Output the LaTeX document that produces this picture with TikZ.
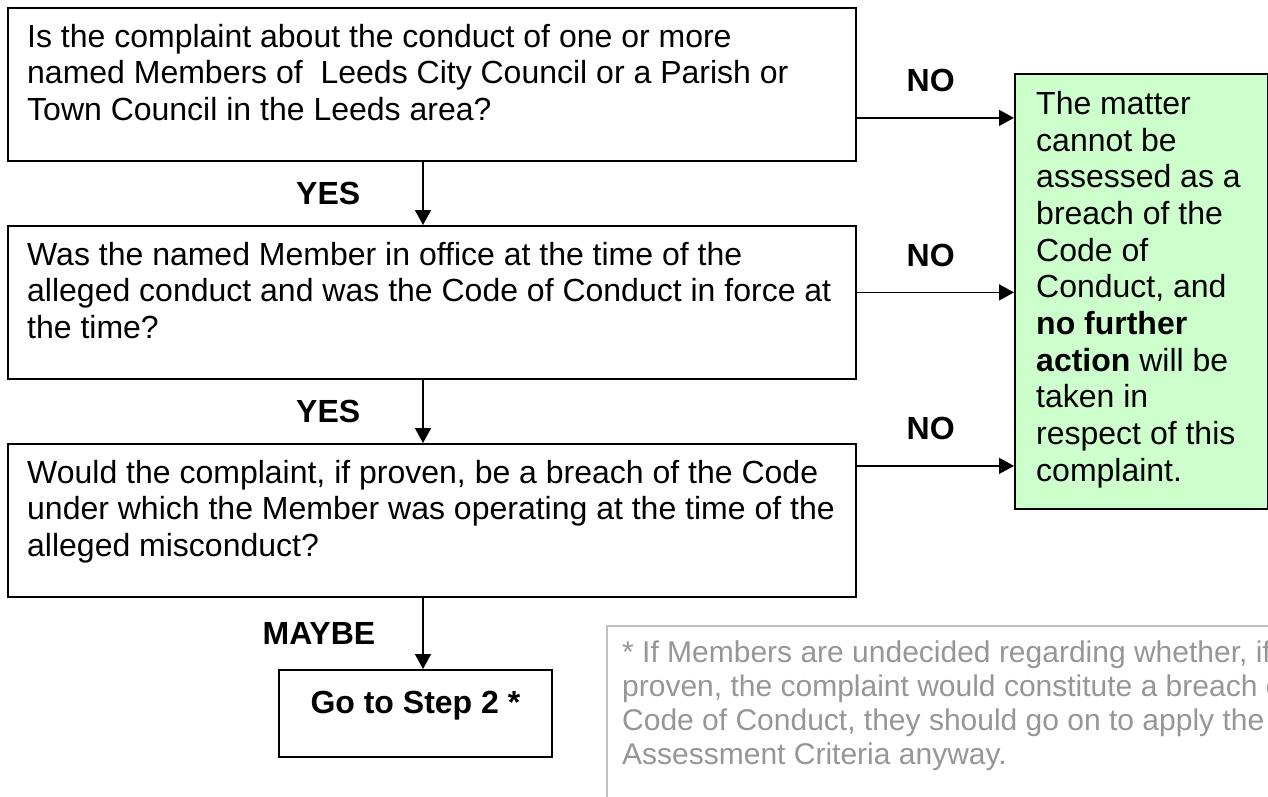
\documentclass[tikz,border=0pt]{standalone}
\usepackage{fontspec}
\setmainfont{Liberation Sans}
\usetikzlibrary{positioning,arrows.meta}
\definecolor{donegreen}{HTML}{CCFFCC}
\definecolor{notegray}{HTML}{969696}
\definecolor{noteline}{HTML}{C0C0C0}

\begin{document}
\begin{tikzpicture}[x=1pt,y=-1pt,
    qbox/.style={draw,line width=1.8pt,anchor=north west,inner sep=0pt,minimum width=848pt,minimum height=153pt},
    qtext/.style={anchor=north west,inner sep=0pt,align=left,font=\fontsize{32}{36.5}\selectfont},
    answer/.style={inner sep=0pt,font=\fontsize{32}{36}\selectfont\bfseries},
    arr/.style={line width=1.5pt,-{Triangle[width=16pt,length=15pt]}}]
  \useasboundingbox (0,0) rectangle (1268,796);
  % the three questions
  \node[qbox] (q1) at (7,7) {};
  \node[qbox] (q2) at (7,225) {};
  \node[qbox] (q3) at (7,443) {};
  \node[qtext,below right=17pt and 20pt of q1.north west] (q1t)
    {Is the complaint about the conduct of one or more\\
     named Members of\ \ Leeds City Council or a Parish or\\
     Town Council in the Leeds area?};
  \node[qtext,below right=17pt and 20pt of q2.north west] (q2t)
    {Was the named Member in office at the time of the\\
     alleged conduct and was the Code of Conduct in force at\\
     the time?};
  \node[qtext,below right=17pt and 20pt of q3.north west] (q3t)
    {Would the complaint, if proven, be a breach of the Code\\
     under which the Member was operating at the time of the\\
     alleged misconduct?};
  % outcome boxes
  \node[draw,line width=1.8pt,fill=donegreen,anchor=north west,inner sep=0pt,
        minimum width=253pt,minimum height=435pt] (done) at (1014,73) {};
  \node[qtext,below right=18pt and 22pt of done.north west,font=\fontsize{32}{36.7}\selectfont] (donet)
    {The matter\\cannot be\\assessed as a\\breach of the\\Code of\\Conduct, and\\
     \textbf{no further}\\\textbf{action} will be\\taken in\\respect of this\\complaint.};
  \node[draw,line width=1.8pt,anchor=north west,inner sep=0pt,
        minimum width=273pt,minimum height=87pt] (go) at (278,669) {};
  \node[answer,below=22pt of go.north] (got) {Go to Step 2 *};
  % footnote
  \node[draw=noteline,line width=1.5pt,anchor=north west,inner sep=0pt,
        minimum width=720pt,minimum height=240pt] (note) at (606,625) {};
  \node[qtext,below right=16pt and 16pt of note.north west,text=notegray,font=\fontsize{30}{34}\selectfont] (notet)
    {* If Members are undecided regarding whether, if\\
     proven, the complaint would constitute a breach of the\\
     Code of Conduct, they should go on to apply the\\
     Assessment Criteria anyway.};
  % connectors
  \coordinate (spine) at (423,0);
  \draw[arr] (q1.south -| spine) -- (q2.north -| spine) node[answer,midway,left=62pt] {YES};
  \draw[arr] (q2.south -| spine) -- (q3.north -| spine) node[answer,midway,left=62pt] {YES};
  \draw[arr] (q3.south -| spine) -- (go.north -| spine) node[answer,midway,left=47pt] {MAYBE};
  \coordinate (n1) at ([yshift=-33.5pt]q1.east);
  \coordinate (n2) at ([yshift=10pt]q2.east);
  \coordinate (n3) at ([yshift=54.5pt]q3.east);
  \draw[arr] (n1) -- (n1 -| done.west) node[answer,pos=.47,above=25pt] {NO};
  \draw[arr] (n2) -- (n2 -| done.west) node[answer,pos=.47,above=25pt] {NO};
  \draw[arr] (n3) -- (n3 -| done.west) node[answer,pos=.47,above=25pt] {NO};
\end{tikzpicture}
\end{document}
